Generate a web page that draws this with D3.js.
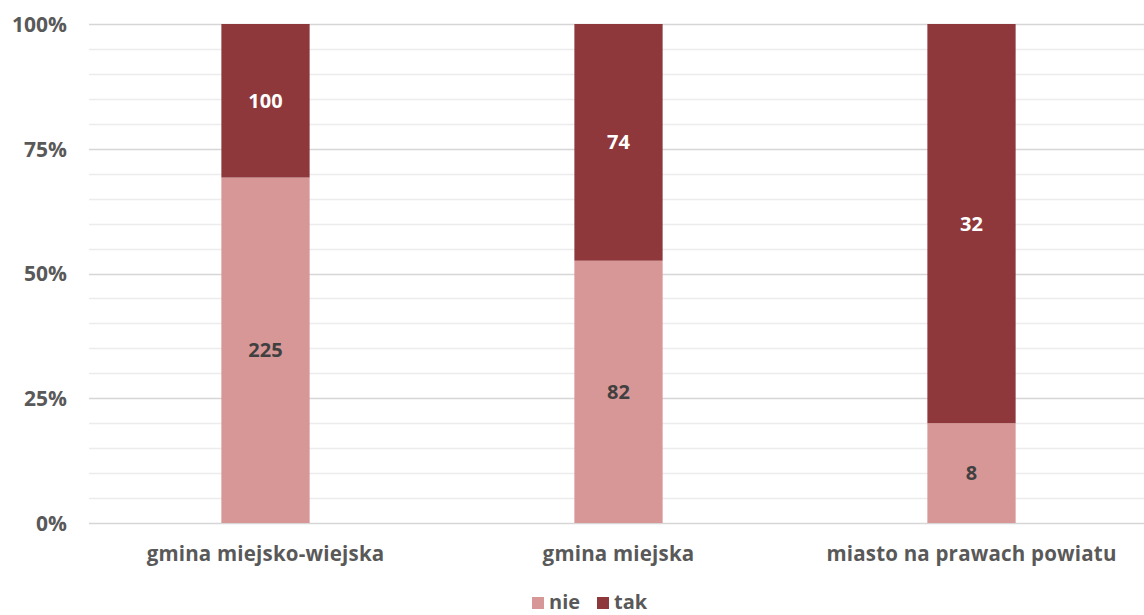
<!DOCTYPE html>
<html>
<head>
<meta charset="utf-8">
<script src="https://cdn.jsdelivr.net/npm/d3@7"></script>
<style>
  html, body { margin: 0; padding: 0; background: #fff; }
  svg { display: block; }
  text { font-family: "Open Sans", "Noto Sans", sans-serif; }
</style>
</head>
<body>
<svg id="chart" width="1144" height="615"></svg>
<script>
// Liczba gmin wg typu — odpowiedzi "nie" / "tak"
const categories = ["gmina miejsko-wiejska", "gmina miejska", "miasto na prawach powiatu"];
const nieValues = [225, 82, 8];
const takValues = [100, 74, 32];
const seriesNames = ["nie", "tak"];
const seriesColors = ["#d89797", "#8f383b"];
const labelColors = ["#404040", "#ffffff"];
const majorTicks = [0, 0.25, 0.5, 0.75, 1];
const minorTicks = d3.range(0, 1.0001, 0.05);

const W = 1144, H = 615;
const margin = { left: 89, right: -4, top: 24, bottom: 92 };
const svg = d3.select("#chart");

const x = d3.scaleBand()
  .domain(categories)
  .range([margin.left, W - margin.right])
  .paddingInner(0.75)
  .paddingOuter(0.375);

const y = d3.scaleLinear()
  .domain([0, 1])
  .range([H - margin.bottom, margin.top]);

// rows for stacking as shares of the column total
const rows = categories.map((c, i) => {
  const total = nieValues[i] + takValues[i];
  return { cat: c, nie: nieValues[i] / total, tak: takValues[i] / total,
           nieN: nieValues[i], takN: takValues[i] };
});
const stack = d3.stack().keys(seriesNames)(rows);

// minor grid
svg.append("g")
  .selectAll("line")
  .data(minorTicks.filter(t => !majorTicks.some(m => Math.abs(m - t) < 1e-6)))
  .join("line")
  .attr("x1", margin.left).attr("x2", W)
  .attr("y1", d => Math.round(y(d)) + 0.5).attr("y2", d => Math.round(y(d)) + 0.5)
  .attr("stroke", "#ececec").attr("stroke-width", 1.5);

// major grid
svg.append("g")
  .selectAll("line")
  .data(majorTicks)
  .join("line")
  .attr("x1", margin.left).attr("x2", W)
  .attr("y1", d => Math.round(y(d)) + 0.5).attr("y2", d => Math.round(y(d)) + 0.5)
  .attr("stroke", "#d6d6d6").attr("stroke-width", 1.5);

// y axis labels
const yAxis = d3.axisLeft(y).tickValues(majorTicks).tickFormat(d3.format(".0%")).tickSize(0).tickPadding(0);
const gy = svg.append("g").attr("transform", `translate(67,0)`).call(yAxis);
gy.select(".domain").remove();
gy.selectAll("text")
  .attr("fill", "#595959")
  .style("font-size", "21px")
  .style("font-weight", "700")
  .attr("dy", "0.35em");

// bars
const layers = svg.append("g")
  .selectAll("g")
  .data(stack)
  .join("g")
  .attr("fill", (d, i) => seriesColors[i]);

layers.selectAll("rect")
  .data(d => d)
  .join("rect")
  .attr("x", d => x(d.data.cat))
  .attr("width", x.bandwidth())
  .attr("y", d => y(d[1]))
  .attr("height", d => y(d[0]) - y(d[1]));

// value labels
stack.forEach((layer, i) => {
  svg.append("g")
    .selectAll("text")
    .data(layer)
    .join("text")
    .attr("x", d => x(d.data.cat) + x.bandwidth() / 2)
    .attr("y", d => (y(d[0]) + y(d[1])) / 2)
    .attr("dy", "0.35em")
    .attr("text-anchor", "middle")
    .attr("fill", labelColors[i])
    .style("font-size", "20px")
    .style("font-weight", "700")
    .text(d => d.data[seriesNames[i] + "N"]);
});

// x axis category labels
const xAxis = d3.axisBottom(x).tickSize(0).tickPadding(0);
const gx = svg.append("g").attr("transform", `translate(0,${y(0) + 31})`).call(xAxis);
gx.select(".domain").remove();
gx.selectAll("text")
  .attr("fill", "#595959")
  .attr("dy", "0.35em")
  .style("font-size", "20.5px")
  .style("font-weight", "700")
  .style("letter-spacing", "0.2px");

// legend
const legendItems = [
  { name: seriesNames[0], color: seriesColors[0], x: 532 },
  { name: seriesNames[1], color: seriesColors[1], x: 597 }
];
const lg = svg.append("g");
legendItems.forEach(it => {
  lg.append("rect").attr("x", it.x).attr("y", 597).attr("width", 12).attr("height", 12).attr("fill", it.color);
  lg.append("text").attr("x", it.x + 17).attr("y", 602).attr("dy", "0.35em")
    .attr("fill", "#595959").style("font-size", "20px").style("font-weight", "700").text(it.name);
});
</script>
</body>
</html>
